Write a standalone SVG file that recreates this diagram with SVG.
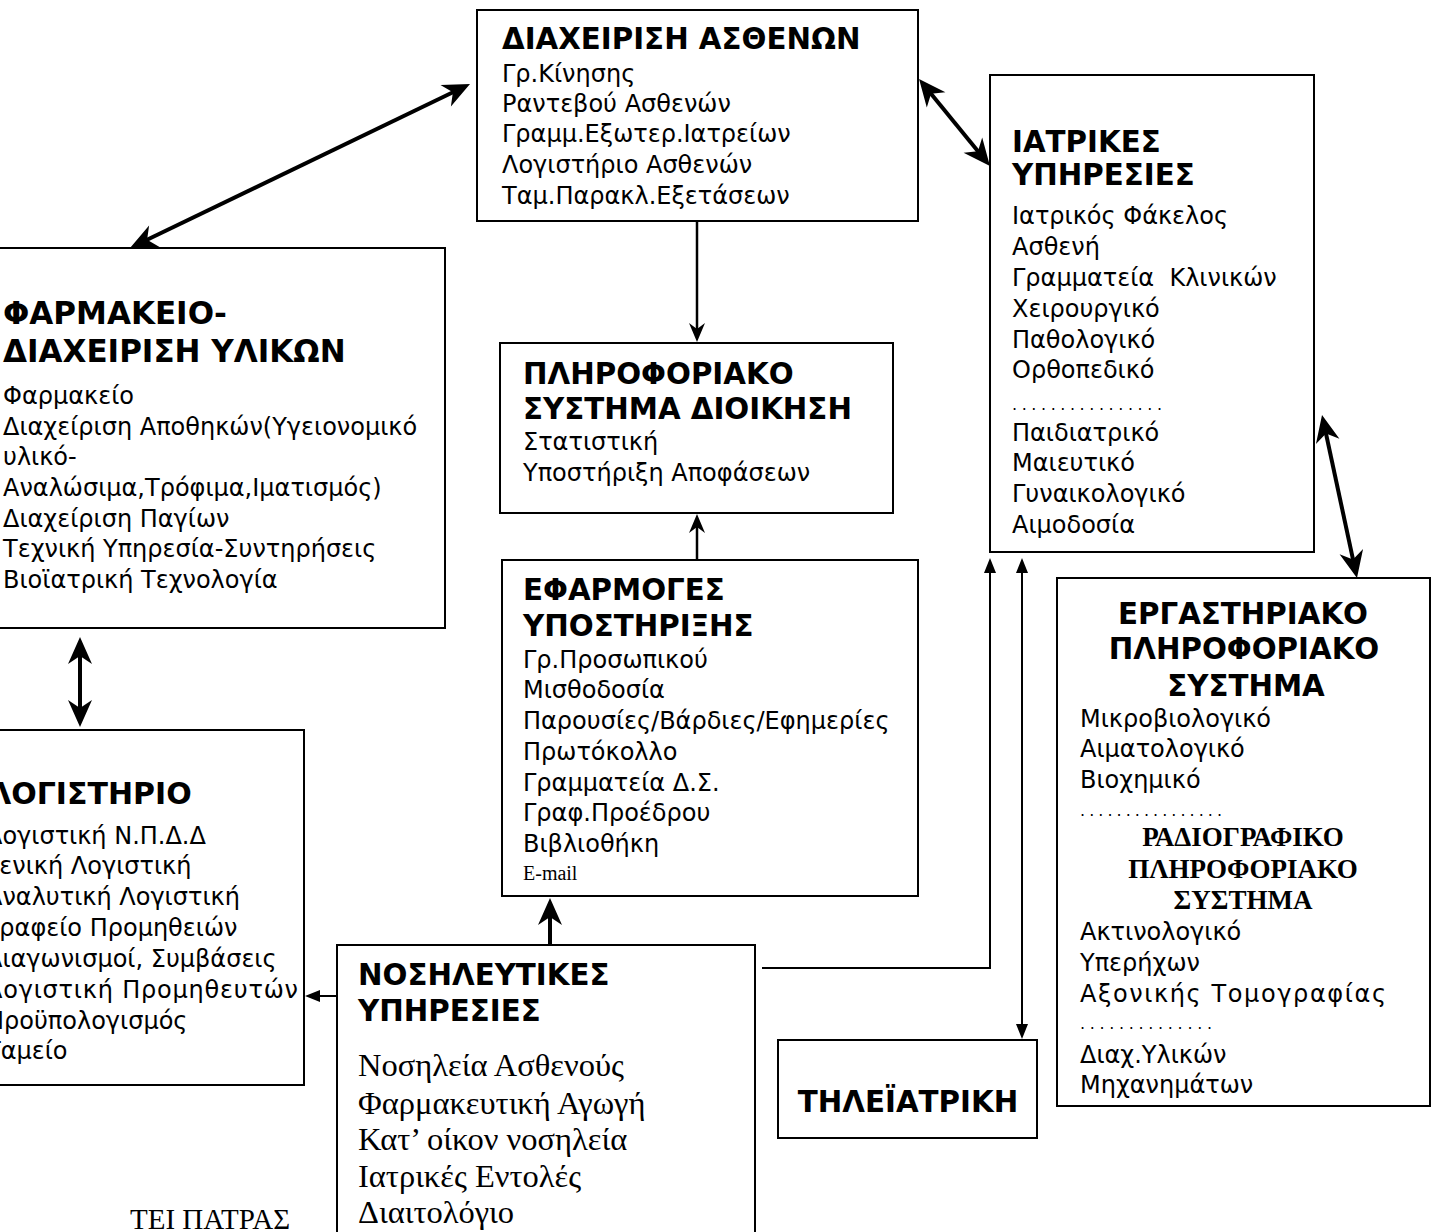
<svg xmlns="http://www.w3.org/2000/svg" width="1437" height="1232" viewBox="0 0 1437 1232">
  <style>
    .box { fill: #fff; stroke: #000; stroke-width: 2; }
    .t { font-family: "DejaVu Sans", sans-serif; font-weight: bold; font-size: 29.3px; fill: #000; }
    .b { font-family: "DejaVu Sans", sans-serif; font-size: 24px; fill: #000; }
    .s { font-family: "Liberation Serif", serif; font-size: 32.5px; fill: #000; }
    .sb { font-family: "Liberation Serif", serif; font-weight: bold; font-size: 27px; fill: #000; }
    .dots { font-family: "DejaVu Sans", sans-serif; font-size: 16px; fill: #000; }
    .mid { text-anchor: middle; }
    .link { fill: none; stroke: #000; }
    .thick { stroke-width: 4; }
    .med { stroke-width: 2.5; }
    .thin { stroke-width: 2; }
  </style>
  <defs>
    <!-- barbed heads; tip sits a few units beyond the line end so the stroke stays hidden -->
    <marker id="head" markerUnits="userSpaceOnUse" orient="auto-start-reverse" overflow="visible" refX="-8" refY="0" markerWidth="1" markerHeight="1">
      <path d="M0,0 L-27,-12 L-19,0 L-27,12 Z" fill="#000"/>
    </marker>
    <marker id="headS" markerUnits="userSpaceOnUse" orient="auto-start-reverse" overflow="visible" refX="-6" refY="0" markerWidth="1" markerHeight="1">
      <path d="M0,0 L-19,-8 L-13,0 L-19,8 Z" fill="#000"/>
    </marker>
    <marker id="headT" markerUnits="userSpaceOnUse" orient="auto-start-reverse" overflow="visible" refX="-4" refY="0" markerWidth="1" markerHeight="1">
      <path d="M0,0 L-15,-6 L-15,6 Z" fill="#000"/>
    </marker>
  </defs>

  <rect x="0" y="0" width="1437" height="1232" fill="#fff"/>

  <g id="connectors">
    <line class="link thick" x1="137.2" y1="244.5" x2="462.8" y2="87.5" marker-start="url(#head)" marker-end="url(#head)"/>
    <line class="link thick" x1="924.1" y1="85.2" x2="984.9" y2="159.8" marker-start="url(#head)" marker-end="url(#head)"/>
    <line class="link med" x1="697" y1="222" x2="697" y2="336" marker-end="url(#headS)"/>
    <line class="link med" x1="697" y1="560" x2="697" y2="520" marker-end="url(#headS)"/>
    <line class="link thick" x1="80" y1="645" x2="80" y2="719" marker-start="url(#head)" marker-end="url(#head)"/>
    <line class="link thick" x1="550" y1="945" x2="550" y2="906" marker-end="url(#head)"/>
    <line class="link thin" x1="337" y1="996" x2="309" y2="996" marker-end="url(#headT)"/>
    <path class="link thin" d="M762,968 H990 V562" marker-end="url(#headT)"/>
    <line class="link thin" x1="1022" y1="562" x2="1022" y2="1035" marker-start="url(#headT)" marker-end="url(#headT)"/>
    <line class="link thick" x1="1323.7" y1="422.8" x2="1355.3" y2="570.2" marker-start="url(#head)" marker-end="url(#head)"/>
  </g>

  <g id="patient-management">
    <rect class="box" x="477" y="10" width="441" height="211"/>
    <text class="t" x="502" y="49">ΔΙΑΧΕΙΡΙΣΗ ΑΣΘΕΝΩΝ</text>
    <text class="b" x="502" y="82">Γρ.Κίνησης</text>
    <text class="b" x="502" y="112">Ραντεβού Ασθενών</text>
    <text class="b" x="502" y="142">Γραμμ.Εξωτερ.Ιατρείων</text>
    <text class="b" x="502" y="173">Λογιστήριο Ασθενών</text>
    <text class="b" x="502" y="204">Ταμ.Παρακλ.Εξετάσεων</text>
  </g>

  <g id="medical-services">
    <rect class="box" x="990" y="75" width="324" height="477"/>
    <text class="t" x="1012" y="152">ΙΑΤΡΙΚΕΣ</text>
    <text class="t" x="1012" y="185">ΥΠΗΡΕΣΙΕΣ</text>
    <text class="b" x="1012" y="224">Ιατρικός Φάκελος</text>
    <text class="b" x="1012" y="255">Ασθενή</text>
    <text class="b" x="1012" y="286" style="white-space:pre">Γραμματεία  Κλινικών</text>
    <text class="b" x="1012" y="317">Χειρουργικό</text>
    <text class="b" x="1012" y="348">Παθολογικό</text>
    <text class="b" x="1012" y="378">Ορθοπεδικό</text>
    <text class="dots" x="1012" y="410" textLength="150">................</text>
    <text class="b" x="1012" y="441">Παιδιατρικό</text>
    <text class="b" x="1012" y="471">Μαιευτικό</text>
    <text class="b" x="1012" y="502">Γυναικολογικό</text>
    <text class="b" x="1012" y="533">Αιμοδοσία</text>
  </g>

  <g id="pharmacy">
    <rect class="box" x="-20" y="248" width="465" height="380"/>
    <text class="t" x="3" y="324" style="font-size:31px">ΦΑΡΜΑΚΕΙΟ-</text>
    <text class="t" x="3" y="362" style="font-size:31px">ΔΙΑΧΕΙΡΙΣΗ ΥΛΙΚΩΝ</text>
    <text class="b" x="3" y="404">Φαρμακείο</text>
    <text class="b" x="3" y="435">Διαχείριση Αποθηκών(Υγειονομικό</text>
    <text class="b" x="3" y="465">υλικό-</text>
    <text class="b" x="3" y="496">Αναλώσιμα,Τρόφιμα,Ιματισμός)</text>
    <text class="b" x="3" y="527">Διαχείριση Παγίων</text>
    <text class="b" x="3" y="557">Τεχνική Υπηρεσία-Συντηρήσεις</text>
    <text class="b" x="3" y="588">Βιοϊατρική Τεχνολογία</text>
  </g>

  <g id="accounting">
    <rect class="box" x="-20" y="730" width="324" height="355"/>
    <text class="t" x="-12" y="804" style="font-size:30px">ΛΟΓΙΣΤΗΡΙΟ</text>
    <text class="b" x="-14" y="844">Λογιστική Ν.Π.Δ.Δ</text>
    <text class="b" x="-14" y="874">Γενική Λογιστική</text>
    <text class="b" x="-14" y="905">Αναλυτική Λογιστική</text>
    <text class="b" x="-14" y="936">Γραφείο Προμηθειών</text>
    <text class="b" x="-14" y="967">Διαγωνισμοί, Συμβάσεις</text>
    <text class="b" x="-14" y="998" textLength="312">Λογιστική Προμηθευτών</text>
    <text class="b" x="-14" y="1029">Προϋπολογισμός</text>
    <text class="b" x="-14" y="1059">Ταμείο</text>
  </g>

  <g id="mis">
    <rect class="box" x="500" y="343" width="393" height="170"/>
    <text class="t" x="523" y="384">ΠΛΗΡΟΦΟΡΙΑΚΟ</text>
    <text class="t" x="523" y="419">ΣΥΣΤΗΜΑ ΔΙΟΙΚΗΣΗ</text>
    <text class="b" x="523" y="450">Στατιστική</text>
    <text class="b" x="523" y="481">Υποστήριξη Αποφάσεων</text>
  </g>

  <g id="support-apps">
    <rect class="box" x="502" y="560" width="416" height="336"/>
    <text class="t" x="523" y="600">ΕΦΑΡΜΟΓΕΣ</text>
    <text class="t" x="523" y="636">ΥΠΟΣΤΗΡΙΞΗΣ</text>
    <text class="b" x="523" y="668">Γρ.Προσωπικού</text>
    <text class="b" x="523" y="698">Μισθοδοσία</text>
    <text class="b" x="523" y="729">Παρουσίες/Βάρδιες/Εφημερίες</text>
    <text class="b" x="523" y="760">Πρωτόκολλο</text>
    <text class="b" x="523" y="791">Γραμματεία Δ.Σ.</text>
    <text class="b" x="523" y="821">Γραφ.Προέδρου</text>
    <text class="b" x="523" y="852">Βιβλιοθήκη</text>
    <text class="s" x="523" y="880" style="font-size:20px">E-mail</text>
  </g>

  <g id="nursing">
    <rect class="box" x="337" y="945" width="418" height="300"/>
    <text class="t" x="358" y="985">ΝΟΣΗΛΕΥΤΙΚΕΣ</text>
    <text class="t" x="358" y="1021">ΥΠΗΡΕΣΙΕΣ</text>
    <text class="s" x="358" y="1076">Νοσηλεία Ασθενούς</text>
    <text class="s" x="358" y="1114">Φαρμακευτική Αγωγή</text>
    <text class="s" x="358" y="1150">Κατ’ οίκον νοσηλεία</text>
    <text class="s" x="358" y="1187">Ιατρικές Εντολές</text>
    <text class="s" x="358" y="1223">Διαιτολόγιο</text>
  </g>

  <g id="telemedicine">
    <rect class="box" x="778" y="1040" width="259" height="98"/>
    <text class="t mid" x="908" y="1112">ΤΗΛΕΪΑΤΡΙΚΗ</text>
  </g>

  <g id="laboratory">
    <rect class="box" x="1057" y="578" width="373" height="528"/>
    <text class="t mid" x="1243" y="624">ΕΡΓΑΣΤΗΡΙΑΚΟ</text>
    <text class="t mid" x="1244" y="659">ΠΛΗΡΟΦΟΡΙΑΚΟ</text>
    <text class="t mid" x="1246" y="696">ΣΥΣΤΗΜΑ</text>
    <text class="b" x="1080" y="727">Μικροβιολογικό</text>
    <text class="b" x="1080" y="757">Αιματολογικό</text>
    <text class="b" x="1080" y="788">Βιοχημικό</text>
    <text class="dots" x="1080" y="816" textLength="142">................</text>
    <text class="sb mid" x="1243" y="846">ΡΑΔΙΟΓΡΑΦΙΚΟ</text>
    <text class="sb mid" x="1243" y="878">ΠΛΗΡΟΦΟΡΙΑΚΟ</text>
    <text class="sb mid" x="1243" y="909">ΣΥΣΤΗΜΑ</text>
    <text class="b" x="1080" y="940">Ακτινολογικό</text>
    <text class="b" x="1080" y="971">Υπερήχων</text>
    <text class="b" x="1080" y="1002" textLength="306">Αξονικής Τομογραφίας</text>
    <text class="dots" x="1080" y="1029" textLength="132">..............</text>
    <text class="b" x="1080" y="1063">Διαχ.Υλικών</text>
    <text class="b" x="1080" y="1093">Μηχανημάτων</text>
  </g>

  <text class="s" x="130" y="1229" style="font-size:29px">ΤΕΙ ΠΑΤΡΑΣ</text>
</svg>
